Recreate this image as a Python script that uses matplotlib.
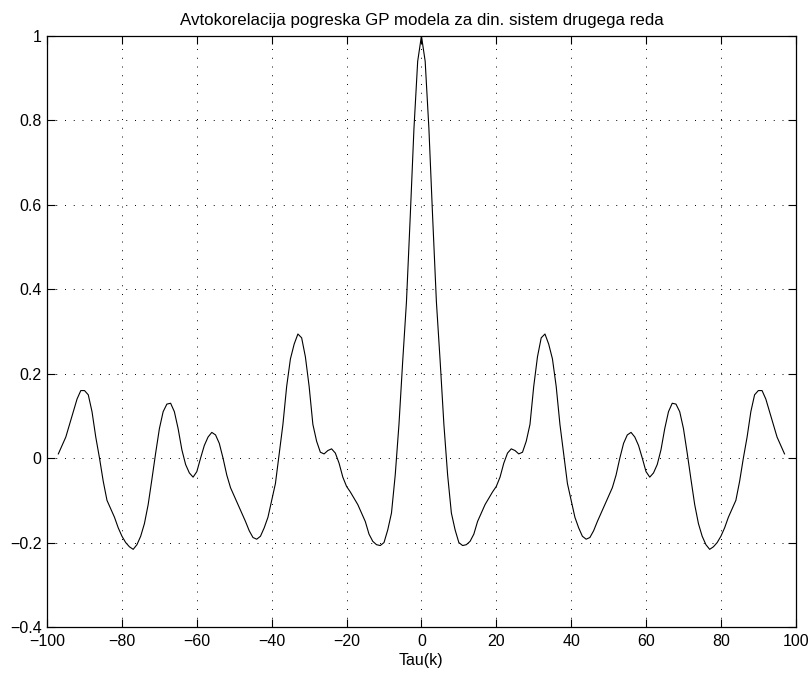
import matplotlib
matplotlib.use("Agg")
import matplotlib.pyplot as plt
import numpy as np

# autokorelacija za pozitivne zamike 0..97 (simetricna okoli 0)
lag_pos = np.arange(0, 98)
r_pos = [1.0, 0.94, 0.78, 0.57, 0.37, 0.23, 0.08, -0.04, -0.13, -0.17,
         -0.2, -0.207, -0.205, -0.197, -0.18, -0.15, -0.13, -0.11, -0.095, -0.08,
         -0.067, -0.045, -0.012, 0.012, 0.022, 0.018, 0.01, 0.014, 0.04, 0.08,
         0.17, 0.24, 0.285, 0.294, 0.27, 0.235, 0.17, 0.08, 0.01, -0.06,
         -0.1, -0.14, -0.165, -0.185, -0.192, -0.188, -0.172, -0.15, -0.13, -0.11,
         -0.09, -0.07, -0.04, 0.0, 0.035, 0.055, 0.061, 0.05, 0.03, 0.0,
         -0.032, -0.045, -0.035, -0.015, 0.02, 0.07, 0.11, 0.13, 0.128, 0.11,
         0.07, 0.012, -0.05, -0.11, -0.155, -0.185, -0.205, -0.216, -0.21, -0.2,
         -0.185, -0.165, -0.14, -0.12, -0.1, -0.055, 0.0, 0.05, 0.11, 0.15,
         0.16, 0.16, 0.14, 0.11, 0.08, 0.05, 0.03, 0.01]

lags = np.concatenate([-lag_pos[:0:-1], lag_pos])
r = np.concatenate([np.array(r_pos)[:0:-1], r_pos])

xticks = np.arange(-100, 101, 20)
yticks = [-0.4, -0.2, 0, 0.2, 0.4, 0.6, 0.8, 1]


def lab(v):
    return ('%g' % v).replace('-', '\u2212')


plt.rcParams['font.family'] = ['Liberation Sans', 'DejaVu Sans']
plt.rcParams['font.size'] = 11.5

fig = plt.figure(figsize=(8.12, 6.74), dpi=100)
ax = fig.add_axes([0.058, 0.0697, 0.922, 0.877])
ax.plot(lags, r, color='black', linewidth=0.8)

ax.set_xlim(-100, 100)
ax.set_ylim(-0.4, 1)
ax.set_xticks(xticks)
ax.set_yticks(yticks)
ax.set_yticklabels([lab(v) for v in yticks])
ax.set_xticklabels([lab(v) for v in xticks])
ax.tick_params(direction='in', length=6, top=True, right=True)
ax.tick_params(axis='x', pad=5)
ax.tick_params(axis='y', pad=4)
ax.grid(True, color='black', linestyle=(0, (1, 8)), linewidth=0.7)
for s in ax.spines.values():
    s.set_linewidth(0.9)

ax.set_title('Avtokorelacija pogreska GP modela za din. sistem drugega reda',
             fontsize=12.2, pad=8)
ax.set_xlabel('Tau(k)', fontsize=11.5, labelpad=3)

fig.savefig('out.png', dpi=100)
